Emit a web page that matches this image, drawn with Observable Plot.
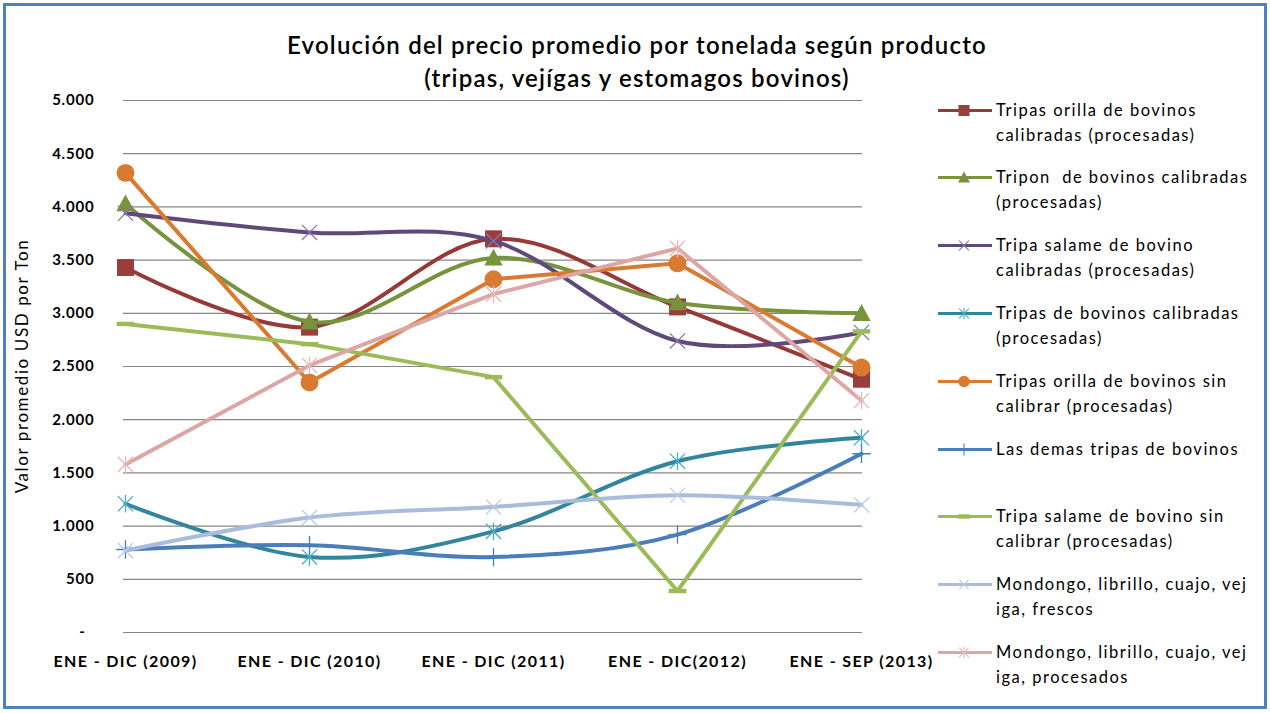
<!DOCTYPE html>
<html><head><meta charset="utf-8">
<script src="https://cdn.jsdelivr.net/npm/d3@7"></script>
<script src="https://cdn.jsdelivr.net/npm/@observablehq/plot@0.6"></script>
<style>
body{margin:0;background:#fff;font-family:Lato,"Open Sans",sans-serif;color:#000;}
#frame{position:absolute;left:3px;top:3px;width:1264px;height:706px;box-sizing:border-box;border:3px solid #4F81BD;}
#title{position:absolute;left:0;width:1274px;top:28px;text-align:center;font-size:24px;line-height:33px;font-weight:600;letter-spacing:1.2px;}
#chart{position:absolute;left:0;top:80px;}
#ytitle{position:absolute;left:-128px;top:356px;width:300px;height:20px;line-height:20px;text-align:center;font-size:17px;transform:rotate(-90deg);letter-spacing:1.6px;white-space:nowrap;}
.item{position:absolute;left:936px;white-space:pre;font-size:16.5px;line-height:25px;letter-spacing:1.5px;}
.item svg{position:absolute;left:0;top:0;}
.item .txt{position:absolute;left:60px;top:0;}
</style></head>
<body>
<div id="frame"></div>
<div id="title">Evolución del precio promedio por tonelada según producto<br>(tripas, vejígas y estomagos bovinos)</div>
<div id="chart"></div>
<div id="ytitle">Valor promedio USD por Ton</div>
<div id="legend"></div>
<script>
// ---- data ----
const categories = ["ENE - DIC (2009)", "ENE - DIC (2010)", "ENE - DIC (2011)", "ENE - DIC(2012)", "ENE - SEP (2013)"];
const seriesNames = [
  "Tripas orilla de bovinos\ncalibradas (procesadas)",
  "Tripon  de bovinos calibradas\n(procesadas)",
  "Tripa salame de bovino\ncalibradas (procesadas)",
  "Tripas de bovinos calibradas\n(procesadas)",
  "Tripas orilla de bovinos sin\ncalibrar (procesadas)",
  "Las demas tripas de bovinos",
  "Tripa salame de bovino sin\ncalibrar (procesadas)",
  "Mondongo, librillo, cuajo, vej\niga, frescos",
  "Mondongo, librillo, cuajo, vej\niga, procesados"
];
const tripasOrillaCalibradas = [3430, 2870, 3700, 3060, 2380];
const triponCalibradas       = [4030, 2920, 3520, 3100, 3000];
const salameCalibradas       = [3940, 3760, 3680, 2740, 2820];
const tripasCalibradas       = [1210, 710, 950, 1610, 1830];
const tripasOrillaSinCalibrar= [4320, 2350, 3320, 3470, 2490];
const lasDemasTripas         = [780, 820, 710, 920, 1680];
const salameSinCalibrar      = [2900, 2710, 2400, 390, 2830];
const mondongoFrescos        = [770, 1080, 1180, 1290, 1200];
const mondongoProcesados     = [1580, 2510, 3180, 3610, 2180];
const yTicks = [0, 500, 1000, 1500, 2000, 2500, 3000, 3500, 4000, 4500, 5000];

// ---- symbols ----
const rad = s => Math.sqrt(s / Math.PI);
const symSquare = {draw(c, s){const h = rad(s) * 1.06; c.rect(-h, -h, 2*h, 2*h);}};
const symTriangle = {draw(c, s){const r = rad(s); c.moveTo(0, -r*1.15); c.lineTo(r*1.15, r*0.95); c.lineTo(-r*1.15, r*0.95); c.closePath();}};
const symCircle = {draw(c, s){const r = rad(s) * 1.12; c.moveTo(r, 0); c.arc(0, 0, r, 0, 2*Math.PI);}};
const symTimes = {draw(c, s){const r = rad(s) * 0.95; c.moveTo(-r,-r); c.lineTo(r,r); c.moveTo(-r,r); c.lineTo(r,-r);}};
const symStar = {draw(c, s){const r = rad(s) * 0.95; c.moveTo(-r,-r); c.lineTo(r,r); c.moveTo(-r,r); c.lineTo(r,-r); c.moveTo(0,-r*1.15); c.lineTo(0,r*1.15);}};
const symPlus = {draw(c, s){const r = rad(s) * 1.15; c.moveTo(0,-r); c.lineTo(0,r); c.moveTo(-r,0); c.lineTo(r,0);}};
const symDash = {draw(c, s){const r = rad(s) * 1.1; c.rect(-r, -2.2, 2*r, 4.4);}};

const seriesValues = [tripasOrillaCalibradas, triponCalibradas, salameCalibradas, tripasCalibradas,
  tripasOrillaSinCalibrar, lasDemasTripas, salameSinCalibrar, mondongoFrescos, mondongoProcesados];
const lineColors = ["#963A38", "#77933C", "#5F497A", "#31859C", "#D97A30", "#4A7EBB", "#9BBB59", "#A9BCDC", "#DCA6A5"];
const markColors = ["#9B3D3B", "#77933C", "#8B77A8", "#4BACC6", "#D97A30", "#4A7EBB", "#9BBB59", "#B9CDE5", "#E6B9B8"];
const symbols = [symSquare, symTriangle, symTimes, symStar, symCircle, symPlus, symDash, symTimes, symStar];
const filled = [true, true, false, false, true, false, true, false, false];
const curves = ["cardinal", "cardinal", "cardinal", "cardinal", "linear", "cardinal", "linear", "cardinal", "linear"];

const rows = [];
seriesNames.forEach((name, i) => seriesValues[i].forEach((v, j) => rows.push({series: i, cat: categories[j], value: v})));

const marks = [Plot.gridY(yTicks, {stroke: "#868686", strokeOpacity: 1, strokeWidth: 1.2})];
seriesNames.forEach((name, i) => {
  const d = rows.filter(r => r.series === i);
  marks.push(Plot.line(d, {x: "cat", y: "value", stroke: lineColors[i], strokeWidth: 4, curve: curves[i]}));
  marks.push(Plot.dot(d, {x: "cat", y: "value", symbol: symbols[i], r: 8,
    fill: filled[i] ? markColors[i] : "none", stroke: filled[i] ? "none" : markColors[i], strokeWidth: filled[i] ? 0 : 1.3}));
});
marks.push(Plot.axisY(yTicks, {tickSize: 0, tickPadding: 29, fontSize: 15, label: null,
  tickFormat: d => d === 0 ? "-\u00A0\u00A0" : d3.format(",")(d).replace(/,/g, ".")}));
marks.push(Plot.axisX({tickSize: 0, tickPadding: 23, fontSize: 16, label: null}));

const chart = Plot.plot({
  width: 1270, height: 613,
  marginLeft: 123, marginRight: 408, marginTop: 20, marginBottom: 61,
  x: {type: "point", domain: categories, padding: 0},
  y: {domain: [0, 5000]},
  style: {fontFamily: "Lato, 'Open Sans', sans-serif", fontWeight: "bold", color: "#000", background: "transparent", letterSpacing: "0.8px"},
  marks
});
d3.select(chart).selectAll('g[aria-label="x-axis tick label"]').style("letter-spacing", "1.4px");
document.getElementById("chart").appendChild(chart);

// ---- legend ----
const legend = document.getElementById("legend");
seriesNames.forEach((name, i) => {
  const yc = 110 + 67.8 * i;
  const item = document.createElement("div");
  item.className = "item";
  item.style.top = (yc - 12.5) + "px";
  const svg = d3.create("svg").attr("width", 60).attr("height", 25);
  svg.append("line").attr("x1", 2).attr("x2", 56).attr("y1", 12.5).attr("y2", 12.5)
    .attr("stroke", lineColors[i]).attr("stroke-width", 3);
  svg.append("path").attr("transform", "translate(28,12.5)")
    .attr("d", d3.symbol().type(symbols[i]).size(Math.PI * 5.2 * 5.2)())
    .attr("fill", filled[i] ? markColors[i] : "none")
    .attr("stroke", filled[i] ? "none" : markColors[i]).attr("stroke-width", 1.1);
  item.appendChild(svg.node());
  const t = document.createElement("div");
  t.className = "txt";
  t.textContent = name;
  item.appendChild(t);
  legend.appendChild(item);
});
</script>
</body></html>
